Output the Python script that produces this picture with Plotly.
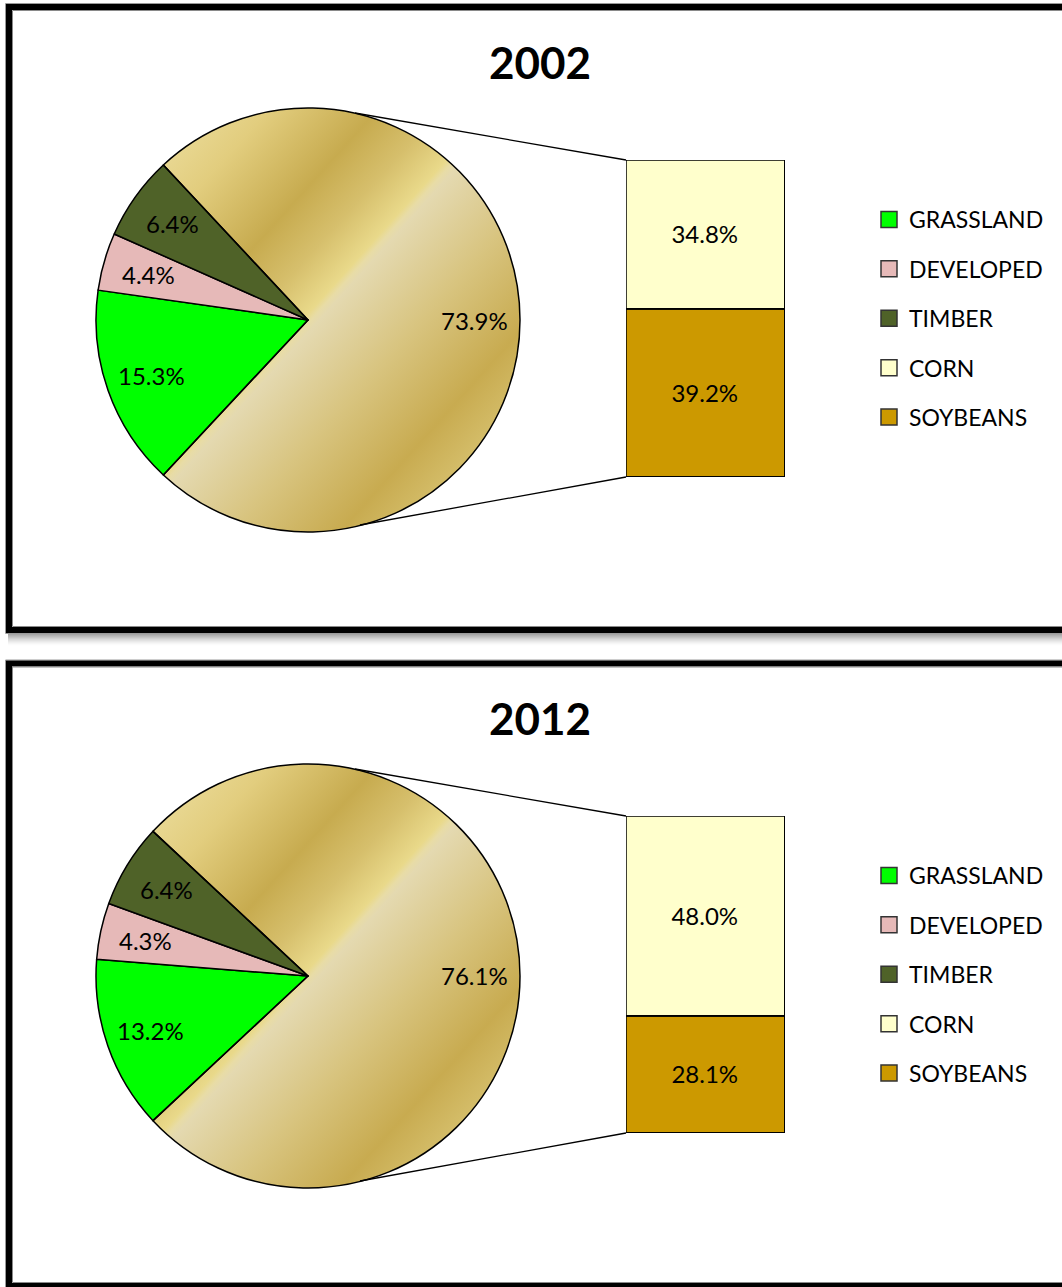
import base64
import math
import plotly.graph_objects as go

W, H = 1062, 1287

# ---- data -------------------------------------------------------------
years = ["2002", "2012"]
land_labels = ["GRASSLAND", "DEVELOPED", "TIMBER", "CROPLAND"]
land_2002 = [15.3, 4.4, 6.4, 73.9]
land_2012 = [13.2, 4.3, 6.4, 76.1]
crop_labels = ["SOYBEANS", "CORN"]
crop_2002 = [39.2, 34.8]
crop_2012 = [28.1, 48.0]
legend_labels = ["GRASSLAND", "DEVELOPED", "TIMBER", "CORN", "SOYBEANS"]

colors = {
    "GRASSLAND": "#00FF00",
    "DEVELOPED": "#E6B9B8",
    "TIMBER": "#4F6228",
    "CROPLAND": "rgba(0,0,0,0)",   # shows the gold gradient disc underneath
    "CORN": "#FFFFCC",
    "SOYBEANS": "#CC9900",
}

FONT = "Lato"


def fx(x):
    return x / W


def fy(y):
    return 1 - y / H


# gold gradient disc used as the fill of the cropland slice
R = 212
dx, dy = 0.743, 0.669
stops = [
    (0.00, "#e8d791"), (0.10, "#e2cd7e"), (0.29, "#c7ab4f"), (0.40, "#d6bf6c"),
    (0.49, "#e9d98a"), (0.505, "#e8dca6"), (0.52, "#e4d9b0"), (0.70, "#d8c47f"),
    (0.89, "#c8ab50"), (1.00, "#d4bd69"),
]
stop_xml = "".join(f'<stop offset="{o}" stop-color="{c}"/>' for o, c in stops)
svg = (
    f'<svg xmlns="http://www.w3.org/2000/svg" width="{2*R}" height="{2*R}" '
    f'viewBox="0 0 {2*R} {2*R}"><defs><linearGradient id="g" gradientUnits="userSpaceOnUse" '
    f'x1="{R - R*dx:.2f}" y1="{R - R*dy:.2f}" x2="{R + R*dx:.2f}" y2="{R + R*dy:.2f}">'
    f'{stop_xml}</linearGradient></defs>'
    f'<circle cx="{R}" cy="{R}" r="{R}" fill="url(#g)"/></svg>'
)
gold_src = "data:image/svg+xml;base64," + base64.b64encode(svg.encode()).decode()

fig = go.Figure()
shapes = []
images = []
annotations = []

panels = [
    dict(year=years[0], land=land_2002, crop=crop_2002, dy=0, sfx=""),
    dict(year=years[1], land=land_2012, crop=crop_2012, dy=656, sfx="2"),
]

for i, p in enumerate(panels):
    d = p["dy"]
    cx, cy = 308, 320 + d
    land = p["land"]
    total = sum(land)

    # cropland slice is centred on the right-hand side, facing the bar
    start = 360 - 180 * land[-1] / total          # math angle where GRASSLAND starts
    rotation = 90 - start                          # plotly: clockwise from 12 o'clock

    images.append(dict(
        source=gold_src, xref="paper", yref="paper",
        x=fx(cx - R), y=fy(cy - R), sizex=2 * R / W, sizey=2 * R / H,
        xanchor="left", yanchor="top", sizing="stretch", layer="below",
    ))

    fig.add_trace(go.Pie(
        labels=land_labels, values=land, sort=False,
        direction="clockwise", rotation=rotation,
        domain=dict(x=[fx(cx - R), fx(cx + R)], y=[fy(cy + R), fy(cy - R)]),
        marker=dict(colors=[colors[l] for l in land_labels],
                    line=dict(color="black", width=1.5)),
        textinfo="none",
        showlegend=False, hoverinfo="skip",
    ))

    # percentage labels placed along each slice's middle angle
    a = start
    for lab, v in zip(land_labels, land):
        span = 360 * v / total
        mid = math.radians(a - span / 2)
        a -= span
        rr = 0.785 * R
        annotations.append(dict(
            text=f"{100 * v / total:.1f}%", xref="paper", yref="paper",
            x=fx(cx + rr * math.cos(mid)), y=fy(cy - rr * math.sin(mid)),
            xanchor="center", yanchor="middle", showarrow=False,
            font=dict(family=FONT, size=24, color="black"),
        ))

    xa = "x" + p["sfx"]
    ya = "y" + p["sfx"]
    base = 0
    for lab, val in zip(crop_labels, p["crop"]):
        fig.add_trace(go.Bar(
            x=[0], y=[val], name=lab, xaxis=xa, yaxis=ya,
            marker=dict(color=colors[lab], line=dict(color="black", width=1.5)),
            texttemplate="%{y:.1f}%", textposition="inside",
            insidetextanchor="middle", textangle=0, cliponaxis=False,
            textfont=dict(family=FONT, size=24, color="black"),
            showlegend=False, hoverinfo="skip",
        ))
        # outline of each stacked segment, in the bar's own axis units
        shapes.append(dict(type="rect", xref=xa, yref=ya,
                           x0=-0.5, x1=0.5, y0=base, y1=base + val,
                           line=dict(color="black", width=1.5), layer="above"))
        base += val

    # legend entries
    leg = "legend" + p["sfx"]
    for lab in legend_labels:
        fig.add_trace(go.Scatter(
            x=[None], y=[None], mode="markers", name=lab,
            xaxis=xa, yaxis=ya, legend=leg, legendgroup=f"{lab}{i}",
            marker=dict(symbol="square", size=16, color=colors[lab],
                        line=dict(color="#333333", width=1.5)),
        ))

    bar_top, bar_bot = 160 + d, 477 + d
    axis_common = dict(visible=False, fixedrange=True)
    fig.update_layout(**{
        "xaxis" + p["sfx"]: dict(
            domain=[fx(626), fx(785)], range=[-0.5, 0.5], anchor=ya, **axis_common),
        "yaxis" + p["sfx"]: dict(
            domain=[fy(bar_bot), fy(bar_top)], range=[0, sum(p["crop"])],
            anchor=xa, **axis_common),
        leg: dict(
            x=fx(869), xanchor="left", y=fy(198 + d), yanchor="top",
            font=dict(family=FONT, size=23, color="black"),
            traceorder="grouped", tracegroupgap=16.5,
            bgcolor="rgba(0,0,0,0)", borderwidth=0,
            itemclick=False, itemdoubleclick=False,
        ),
    })

    # connector lines from pie to stacked bar
    for (x0, y0, x1, y1) in [(355, 113, 626, 160), (360, 525, 626, 477)]:
        shapes.append(dict(type="line", xref="paper", yref="paper",
                           x0=fx(x0), y0=fy(y0 + d), x1=fx(x1), y1=fy(y1 + d),
                           line=dict(color="black", width=1.3)))

    annotations.append(dict(
        text=f"<b>{p['year']}</b>", xref="paper", yref="paper",
        x=fx(540), y=fy(62 + d), xanchor="center", yanchor="middle",
        showarrow=False, font=dict(family=FONT, size=44, color="black"),
    ))

# panel frames
frames = [(7, 630), (663.5, 1286)]
for k, (top, bot) in enumerate(frames):
    shapes.append(dict(type="rect", xref="paper", yref="paper",
                       x0=fx(5.5), x1=fx(1080), y0=fy(top - 3.5), y1=fy(bot + 3.5),
                       line=dict(color="#9a9a9a", width=1)))
    shapes.append(dict(type="rect", xref="paper", yref="paper",
                       x0=fx(9), x1=fx(1080), y0=fy(top), y1=fy(bot),
                       line=dict(color="black", width=6)))
    shapes.append(dict(type="rect", xref="paper", yref="paper",
                       x0=fx(12.5), x1=fx(1080), y0=fy(top + 3.5), y1=fy(bot - 3.5),
                       line=dict(color="#8a8a8a", width=1)))

# soft drop shadow under the first frame
for j in range(12):
    y0 = 633.5 + j
    shapes.append(dict(type="rect", xref="paper", yref="paper",
                       x0=fx(8), x1=fx(1062), y0=fy(y0), y1=fy(y0 + 1),
                       fillcolor=f"rgba(0,0,0,{0.42 * (1 - j / 12) ** 1.6:.3f})",
                       line=dict(width=0), layer="below"))

fig.update_layout(
    width=W, height=H, margin=dict(l=0, r=0, t=0, b=0),
    paper_bgcolor="white", plot_bgcolor="rgba(0,0,0,0)",
    barmode="stack", bargap=0,
    shapes=shapes, images=images, annotations=annotations,
    hovermode=False, font=dict(family=FONT),
)

fig.write_html("out.html")
